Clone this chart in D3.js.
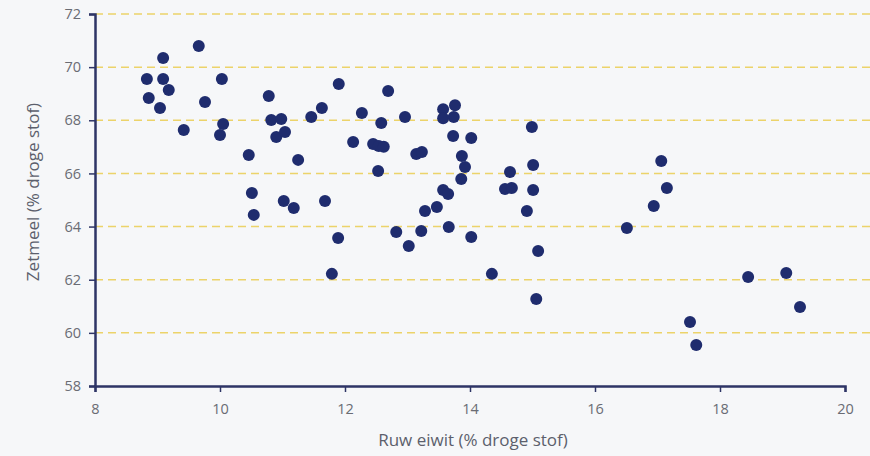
<!DOCTYPE html>
<html>
<head>
<meta charset="utf-8">
<script src="https://cdn.jsdelivr.net/npm/d3@7"></script>
<style>
  body { margin: 0; background: #f6f7f9; }
  svg { display: block; }
  .tick text { font-family: "Open Sans", "Noto Sans", sans-serif; font-size: 14.5px; fill: #6a6c74; }
  .title { font-family: "Open Sans", "Noto Sans", sans-serif; font-size: 17px; fill: #5c5f6c; }
</style>
</head>
<body>
<div class="js-chart"></div>
<script>
// Ruw eiwit (% droge stof) per sample
const eiwit = [
  8.83, 8.86, 9.09, 9.09, 9.18, 9.04, 9.42, 9.66, 9.76, 10.03,
  10.05, 10.00, 10.46, 10.51, 10.54, 10.78, 10.82, 10.98, 10.90, 11.04,
  11.02, 11.18, 11.25, 11.46, 11.63, 11.68, 11.90, 11.89, 11.79, 12.13,
  12.27, 12.45, 12.54, 12.62, 12.58, 12.53, 12.69, 12.96, 13.57, 13.76,
  13.57, 13.74, 13.73, 14.02, 13.87, 13.92, 13.86, 13.14, 13.23, 13.57,
  13.65, 13.28, 13.47, 12.82, 13.22, 13.66, 14.02, 13.02, 14.35, 14.56,
  14.67, 14.64, 14.99, 15.01, 15.01, 14.91, 15.09, 15.06, 16.51, 17.06,
  17.15, 16.94, 18.45, 19.06, 19.28, 17.52, 17.62
];

// Zetmeel (% droge stof) per sample
const zetmeel = [
  69.55, 68.84, 70.34, 69.55, 69.14, 68.46, 67.63, 70.80, 68.69, 69.55,
  67.86, 67.45, 66.69, 65.26, 64.44, 68.91, 68.01, 68.05, 67.37, 67.56,
  64.96, 64.70, 66.51, 68.12, 68.46, 64.96, 69.37, 63.57, 62.22, 67.18,
  68.27, 67.11, 67.03, 67.00, 67.90, 66.09, 69.10, 68.12, 68.42, 68.57,
  68.08, 68.12, 67.41, 67.33, 66.66, 66.24, 65.79, 66.73, 66.81, 65.38,
  65.23, 64.59, 64.74, 63.80, 63.83, 63.98, 63.61, 63.27, 62.22, 65.41,
  65.45, 66.05, 67.75, 66.32, 65.38, 64.59, 63.08, 61.27, 63.95, 66.47,
  65.45, 64.77, 62.10, 62.25, 60.97, 60.41, 59.54
];

const xTicks = [8, 10, 12, 14, 16, 18, 20];
const yTicks = [58, 60, 62, 64, 66, 68, 70, 72];

const width = 870;
const height = 456;
const navy = "#2e3566";

const svg = d3.select(".js-chart")
  .append("svg")
  .attr("width", width)
  .attr("height", height);

const x = d3.scaleLinear().domain([8, 20]).range([95, 845]);
const y = d3.scaleLinear().domain([58, 72]).range([386, 14]);

// dashed yellow gridlines, running to the right edge
svg.append("g")
  .selectAll("line")
  .data(yTicks.filter(d => d > 58))
  .join("line")
  .attr("x1", x(8))
  .attr("x2", width)
  .attr("y1", d => y(d))
  .attr("y2", d => y(d))
  .attr("stroke", "#ecd36a")
  .attr("stroke-width", 1.5)
  .attr("stroke-dasharray", "8,5");

// axes
const xAxis = svg.append("g")
  .attr("transform", "translate(0," + y(58) + ")")
  .call(d3.axisBottom(x).tickValues(xTicks).tickSize(6).tickPadding(12).tickFormat(d3.format("d")));

const yAxis = svg.append("g")
  .attr("transform", "translate(" + x(8) + ",0)")
  .call(d3.axisLeft(y).tickValues(yTicks).tickSize(6).tickPadding(8).tickFormat(d3.format("d")));

[xAxis, yAxis].forEach(function (g) {
  g.select(".domain").attr("stroke", navy).attr("stroke-width", 2.5);
  g.selectAll(".tick line").attr("stroke", navy).attr("stroke-width", 1.5);
});

// the points
svg.append("g")
  .selectAll("circle")
  .data(d3.range(eiwit.length))
  .join("circle")
  .attr("cx", i => x(eiwit[i]))
  .attr("cy", i => y(zetmeel[i]))
  .attr("r", 6)
  .attr("fill", "#1f2c6e");

// axis titles
svg.append("text")
  .attr("class", "title")
  .attr("x", 473)
  .attr("y", 446)
  .attr("text-anchor", "middle")
  .text("Ruw eiwit (% droge stof)");

svg.append("text")
  .attr("class", "title")
  .attr("transform", "translate(39,192) rotate(-90)")
  .attr("text-anchor", "middle")
  .text("Zetmeel (% droge stof)");
</script>
</body>
</html>
